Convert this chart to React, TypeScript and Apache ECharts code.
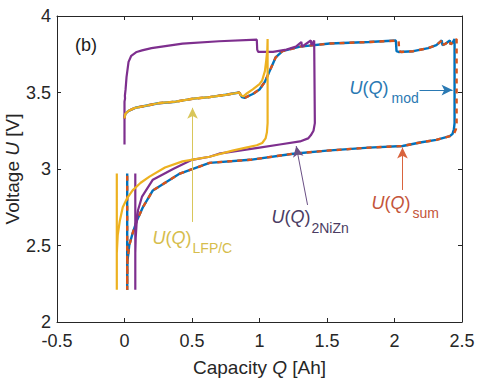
import React, { useEffect, useRef } from "react";
import * as echarts from "echarts";

// ---- data (Capacity Q [Ah], Voltage U [V]) ----
const lfpQ = [0, 0.005, 0.03, 0.08, 0.14, 0.25, 0.38, 0.51, 0.63, 0.75, 0.85, 0.865, 0.88, 0.9, 0.95, 1.0, 1.02, 1.04, 1.05, 1.058, 1.06, 1.06, 1.055, 1.045, 1.02, 0.98, 0.9, 0.8, 0.63, 0.43, 0.3, 0.185, 0.12, 0.06, 0.02, -0.013, -0.035, -0.05, -0.057, -0.057, -0.057];
const lfpU = [3.33, 3.36, 3.38, 3.40, 3.41, 3.43, 3.44, 3.46, 3.47, 3.485, 3.50, 3.48, 3.475, 3.49, 3.52, 3.555, 3.58, 3.64, 3.71, 3.78, 3.85, 3.30, 3.24, 3.20, 3.17, 3.155, 3.14, 3.12, 3.08, 3.05, 3.01, 2.95, 2.91, 2.86, 2.81, 2.75, 2.66, 2.57, 2.45, 2.21, 2.97];

const niznQ = [0, 0, 0.004, 0.003, 0.008, 0.015, 0.03, 0.05, 0.09, 0.13, 0.2, 0.43, 0.7, 0.98, 0.983, 0.99, 1.01, 1.1, 1.2, 1.27, 1.31, 1.315, 1.38, 1.385, 1.405, 1.41, 1.41, 1.40, 1.38, 1.36, 1.30, 1.15, 1.0, 0.85, 0.7, 0.63, 0.5, 0.36, 0.21, 0.13, 0.1, 0.09, 0.083, 0.08, 0.08, 0.08];
const niznU = [3.16, 3.44, 3.46, 3.48, 3.52, 3.60, 3.70, 3.74, 3.765, 3.775, 3.79, 3.82, 3.835, 3.845, 3.78, 3.765, 3.765, 3.765, 3.78, 3.80, 3.83, 3.80, 3.84, 3.81, 3.84, 3.84, 3.30, 3.25, 3.22, 3.20, 3.18, 3.16, 3.14, 3.12, 3.10, 3.08, 3.06, 3.0, 2.93, 2.82, 2.73, 2.65, 2.55, 2.45, 2.21, 2.97];

const modQ = [0, 0.005, 0.03, 0.08, 0.14, 0.25, 0.38, 0.51, 0.63, 0.75, 0.85, 0.87, 0.89, 0.95, 1.0, 1.04, 1.07, 1.1, 1.12, 1.17, 1.3, 1.52, 1.81, 2.01, 2.015, 2.03, 2.14, 2.25, 2.31, 2.35, 2.355, 2.38, 2.41, 2.415, 2.43, 2.445, 2.445, 2.44, 2.43, 2.41, 2.35, 2.31, 2.2, 2.06, 1.81, 1.5, 1.25, 0.93, 0.63, 0.41, 0.21, 0.136, 0.09, 0.06, 0.035, 0.022, 0.02, 0.02];
const modU = [3.33, 3.36, 3.38, 3.40, 3.41, 3.43, 3.44, 3.46, 3.47, 3.485, 3.50, 3.47, 3.465, 3.49, 3.52, 3.57, 3.63, 3.69, 3.73, 3.77, 3.80, 3.82, 3.83, 3.84, 3.77, 3.765, 3.77, 3.79, 3.81, 3.84, 3.81, 3.82, 3.84, 3.815, 3.825, 3.85, 3.30, 3.26, 3.23, 3.215, 3.20, 3.19, 3.175, 3.15, 3.14, 3.12, 3.10, 3.06, 3.04, 2.97, 2.86, 2.75, 2.66, 2.58, 2.50, 2.40, 2.21, 2.97];

const sumQ = [0, 0.005, 0.03, 0.08, 0.14, 0.25, 0.38, 0.51, 0.63, 0.75, 0.85, 0.87, 0.89, 0.95, 1.0, 1.04, 1.07, 1.1, 1.12, 1.17, 1.3, 1.52, 1.81, 2.03, 2.035, 2.05, 2.14, 2.25, 2.31, 2.35, 2.355, 2.38, 2.41, 2.415, 2.43, 2.46, 2.46, 2.455, 2.44, 2.41, 2.35, 2.31, 2.2, 2.06, 1.81, 1.5, 1.25, 0.93, 0.63, 0.41, 0.21, 0.136, 0.09, 0.06, 0.035, 0.022, 0.02, 0.02];
const sumU = [3.33, 3.36, 3.38, 3.40, 3.41, 3.43, 3.44, 3.46, 3.47, 3.485, 3.50, 3.47, 3.465, 3.49, 3.52, 3.57, 3.63, 3.69, 3.73, 3.77, 3.80, 3.82, 3.83, 3.84, 3.77, 3.765, 3.77, 3.79, 3.81, 3.84, 3.81, 3.82, 3.84, 3.815, 3.825, 3.85, 3.30, 3.26, 3.23, 3.215, 3.20, 3.19, 3.175, 3.15, 3.14, 3.12, 3.10, 3.06, 3.04, 2.97, 2.86, 2.75, 2.66, 2.58, 2.50, 2.40, 2.21, 2.97];

const xTicks = [-0.5, 0, 0.5, 1, 1.5, 2, 2.5];
const yTicks = [2, 2.5, 3, 3.5, 4];

// annotation labels, positions given in data coordinates
const annotations = [
  { main: "LFP/C", tq: 0.207, tu: 2.549, sq: 0.504, su: 2.484, from: [0.504, 2.654], to: [0.504, 3.40], text: "#d6bd4c", arrow: "#d9c65a" },
  { main: "2NiZn", tq: 1.089, tu: 2.686, sq: 1.385, su: 2.614, from: [1.356, 2.765], to: [1.272, 3.15], text: "#4b3c63", arrow: "#6a4f85" },
  { main: "sum", tq: 1.83, tu: 2.778, sq: 2.133, su: 2.712, from: [2.059, 2.863], to: [2.059, 3.14], text: "#c4553a", arrow: "#d9643e" },
  { main: "mod", tq: 1.667, tu: 3.529, sq: 1.978, su: 3.464, from: [2.185, 3.516], to: [2.43, 3.516], text: "#2a79b3", arrow: "#2a79b3" },
];

const FONT = "'Liberation Sans', Arial, Helvetica, sans-serif";
const AX = "#262626";

function zip(q: number[], u: number[]) {
  return q.map((v, i) => [v, u[i]]);
}

export default function App() {
  const ref = useRef<HTMLDivElement>(null);
  useEffect(() => {
    if (!ref.current) return;
    const chart = echarts.init(ref.current, undefined, { renderer: "svg" });
    const baseAxisX = {
      type: "value",
      min: xTicks[0],
      max: xTicks[xTicks.length - 1],
      interval: 0.5,
      splitLine: { show: false },
      axisLine: { show: true, onZero: false, lineStyle: { color: AX, width: 1 } },
      axisTick: { show: true, inside: true, length: 4, lineStyle: { color: AX } },
    };
    const baseAxisY = {
      type: "value",
      min: yTicks[0],
      max: yTicks[yTicks.length - 1],
      interval: 0.5,
      splitLine: { show: false },
      axisLine: { show: true, onZero: false, lineStyle: { color: AX, width: 1 } },
      axisTick: { show: true, inside: true, length: 4, lineStyle: { color: AX } },
    };
    const mk = (a: any) => ({
      silent: true,
      symbol: ["none", "arrow"],
      symbolSize: [8, 11],
      label: { show: false },
      lineStyle: { color: a.arrow, width: 1, type: "solid" },
      data: [[{ coord: a.from }, { coord: a.to }]],
    });
    chart.setOption({
      animation: false,
      backgroundColor: "#ffffff",
      grid: { left: 57, right: 38, top: 16, bottom: 64, containLabel: false, outerBoundsMode: "none" },
      xAxis: [
        {
          ...baseAxisX,
          position: "bottom",
          name: "{n|Capacity }{i|Q}{n| [Ah]}",
          nameLocation: "middle",
          nameGap: 36,
          nameMoveOverlap: false,
          nameTextStyle: {
            rich: {
              n: { fontFamily: FONT, fontSize: 19, color: AX },
              i: { fontFamily: FONT, fontSize: 19, color: AX, fontStyle: "italic" },
            },
          },
          axisLabel: { fontFamily: FONT, fontSize: 18, color: AX, margin: 10 },
        },
        { ...baseAxisX, position: "top", axisLabel: { show: false } },
      ],
      yAxis: [
        {
          ...baseAxisY,
          position: "left",
          name: "{n|Voltage }{i|U}{n| [V]}",
          nameLocation: "middle",
          nameGap: 35,
          nameRotate: 90,
          nameMoveOverlap: false,
          nameTextStyle: {
            rich: {
              n: { fontFamily: FONT, fontSize: 19, color: AX },
              i: { fontFamily: FONT, fontSize: 19, color: AX, fontStyle: "italic" },
            },
          },
          axisLabel: { fontFamily: FONT, fontSize: 18, color: AX, margin: 6 },
        },
        { ...baseAxisY, position: "right", axisLabel: { show: false } },
      ],
      series: [
        {
          name: "mod",
          type: "line",
          data: zip(modQ, modU),
          showSymbol: false,
          symbol: "none",
          z: 2,
          lineStyle: { color: "#0072BD", width: 2.4 },
          markLine: mk(annotations[3]),
        },
        {
          name: "sum",
          type: "line",
          data: zip(sumQ, sumU),
          showSymbol: false,
          symbol: "none",
          z: 3,
          lineStyle: { color: "#D95319", width: 2.4, type: [5, 5] },
          markLine: mk(annotations[2]),
        },
        {
          name: "2NiZn",
          type: "line",
          data: zip(niznQ, niznU),
          showSymbol: false,
          symbol: "none",
          z: 4,
          lineStyle: { color: "#7E2F8E", width: 2.2 },
          markLine: mk(annotations[1]),
        },
        {
          name: "LFP/C",
          type: "line",
          data: zip(lfpQ, lfpU),
          showSymbol: false,
          symbol: "none",
          z: 5,
          lineStyle: { color: "#EDB120", width: 2.2 },
          markLine: mk(annotations[0]),
        },
      ],
    });

    const graphics: any[] = [];
    const p0 = chart.convertToPixel({ gridIndex: 0 }, [-0.5, 4]) as number[];
    graphics.push({
      type: "text",
      x: p0[0] + 18,
      y: p0[1] + 29,
      style: { text: "(b)", font: `18px ${FONT}`, fill: "#1a1a1a", verticalAlign: "middle" },
    });
    annotations.forEach((a) => {
      const t = chart.convertToPixel({ gridIndex: 0 }, [a.tq, a.tu]) as number[];
      const s = chart.convertToPixel({ gridIndex: 0 }, [a.sq, a.su]) as number[];
      graphics.push({
        type: "text",
        x: t[0],
        y: t[1],
        style: {
          text: "{i|U}{n|(}{i|Q}{n|)}",
          verticalAlign: "middle",
          rich: {
            i: { font: `italic 18px ${FONT}`, fill: a.text },
            n: { font: `18px ${FONT}`, fill: a.text },
          },
        },
      });
      graphics.push({
        type: "text",
        x: s[0],
        y: s[1],
        style: { text: a.main, font: `14px ${FONT}`, fill: a.text, verticalAlign: "middle" },
      });
    });
    chart.setOption({ graphic: graphics });
    return () => chart.dispose();
  }, []);
  return (
    <div
      ref={ref}
      style={{ position: "absolute", left: 0, top: 0, width: 500, height: 386 }}
    />
  );
}
